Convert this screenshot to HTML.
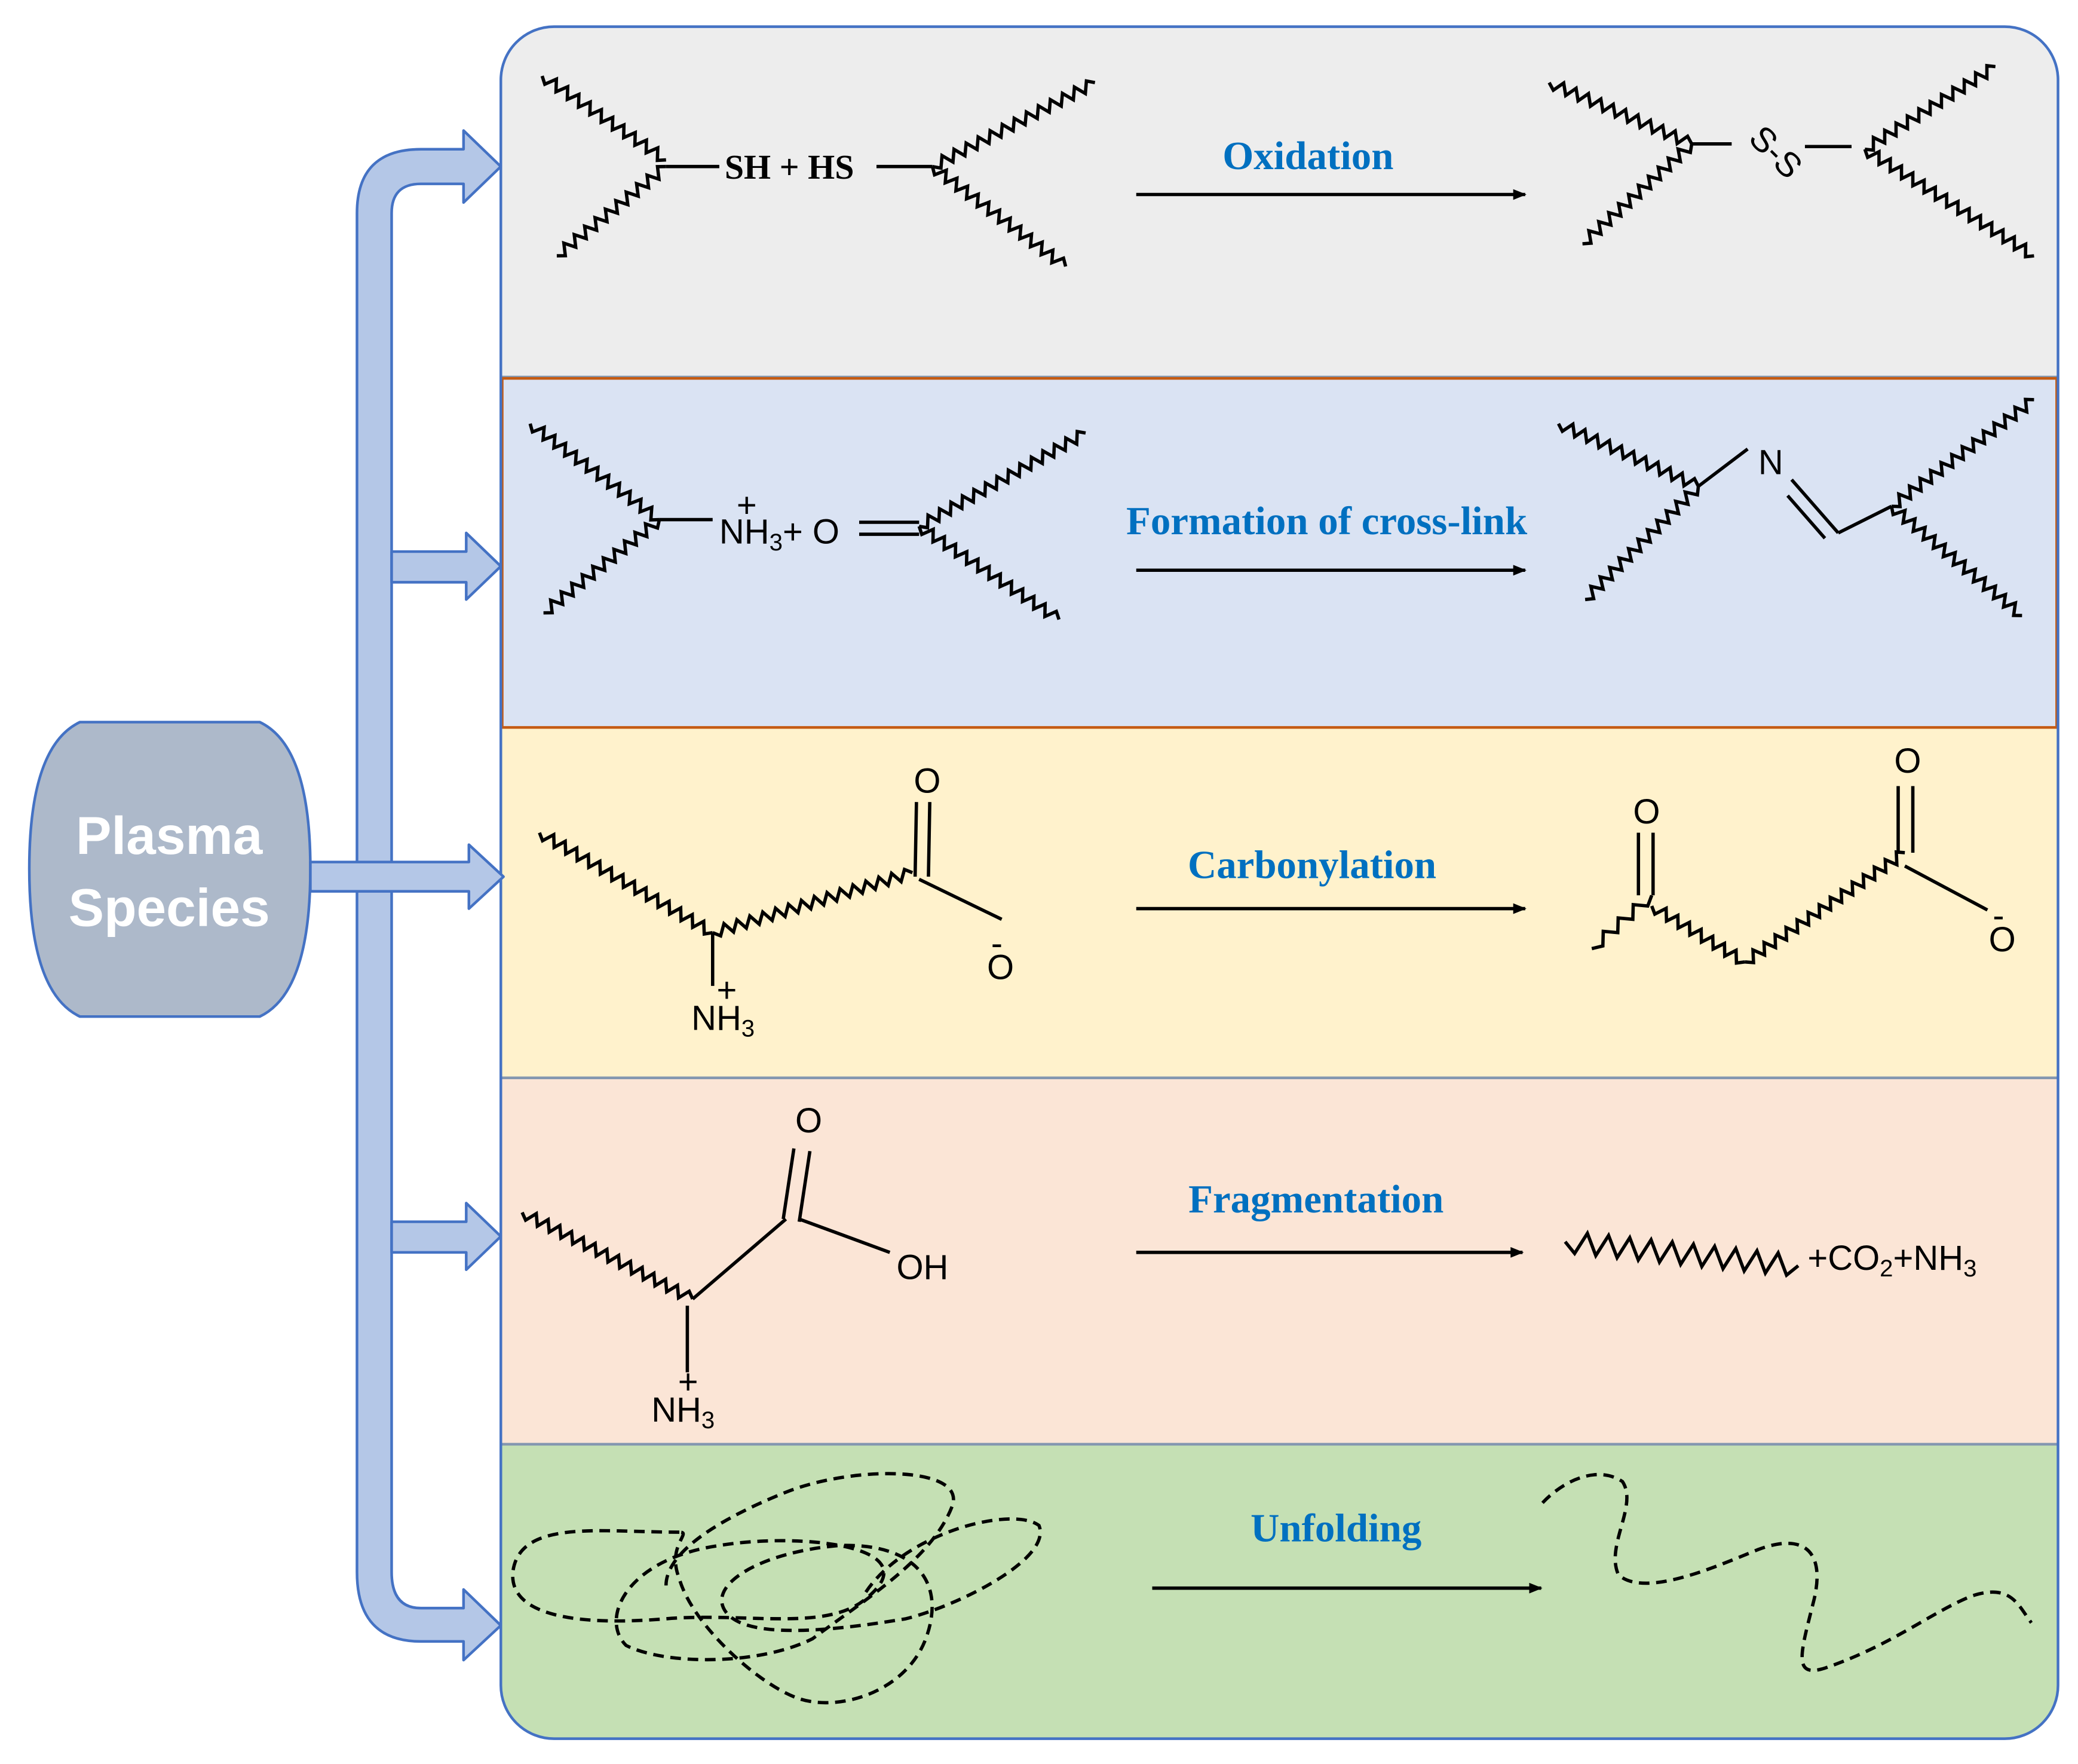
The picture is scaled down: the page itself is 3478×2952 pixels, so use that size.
<!DOCTYPE html>
<html><head><meta charset="utf-8"><style>
html,body{margin:0;padding:0;background:#fff;width:3478px;height:2952px;overflow:hidden}
svg{display:block}
.lbl{font-family:"Liberation Serif",serif;font-weight:bold;font-size:30px;fill:#0070c0;text-anchor:middle}
.ch{font-family:"Liberation Sans",sans-serif;font-size:26px;fill:#000}
.chs{font-family:"Liberation Serif",serif;font-weight:bold;font-size:26px;fill:#000}
</style></head><body>
<svg id="s" width="3478" height="2952" viewBox="0 0 1560 1324" preserveAspectRatio="none">
<defs><marker id="ah" markerWidth="10" markerHeight="8" refX="9" refY="4" orient="auto" markerUnits="userSpaceOnUse"><path d="M0,0 L10,4 L0,8z" fill="#000"/></marker>
<clipPath id="cp"><rect x="376" y="20" width="1169" height="1285" rx="40"/></clipPath></defs>
<g clip-path="url(#cp)">
<rect x="376" y="20" width="1169" height="263" fill="#ededed"/>
<rect x="376" y="283" width="1169" height="264" fill="#dae3f3"/>
<rect x="376" y="547" width="1169" height="262" fill="#fff2cc"/>
<rect x="376" y="809" width="1169" height="275" fill="#fbe5d6"/>
<rect x="376" y="1084" width="1169" height="221" fill="#c5e0b4"/>
<line x1="376" y1="283" x2="1545" y2="283" stroke="#8497b0" stroke-width="2"/>
<rect x="377" y="284" width="1167" height="262" fill="none" stroke="#c55a11" stroke-width="2"/>
<line x1="376" y1="809" x2="1545" y2="809" stroke="#8497b0" stroke-width="2"/>
<line x1="376" y1="1084" x2="1545" y2="1084" stroke="#8497b0" stroke-width="2"/>
</g>
<rect x="376" y="20" width="1169" height="1285" rx="40" fill="none" stroke="#4472c4" stroke-width="2"/>

<path d="M60,542 L195,542 Q233,560 233,652 Q233,745 195,763 L60,763 Q22,745 22,652 Q22,560 60,542z" fill="#adb9ca" stroke="#4472c4" stroke-width="2"/>
<text x="127" y="641" text-anchor="middle" font-family="Liberation Sans,sans-serif" font-weight="bold" font-size="40" fill="#fff">Plasma</text>
<text x="127" y="695" text-anchor="middle" font-family="Liberation Sans,sans-serif" font-weight="bold" font-size="40" fill="#fff">Species</text>

<g fill="#b4c7e7" stroke="#4472c4" stroke-width="2" stroke-linejoin="round">
<path d="M294,1180 L294,160 Q294,138 316,138 L348,138 L348,152 L376,125 L348,98 L348,112 L316,112 Q268,112 268,160 L268,1180 Q268,1232 316,1232 L348,1232 L348,1246 L376,1220 L348,1193 L348,1207 L316,1207 Q294,1207 294,1180z"/>
<path d="M294,414 L350,414 L350,400 L376,425 L350,450 L350,437 L294,437z"/>
<path d="M233,647 L352,647 L352,634 L378,658 L352,682 L352,669 L233,669z"/>
<path d="M294,917 L350,917 L350,903 L376,928 L350,953 L350,940 L294,940z"/>
</g>

<g id="chem" stroke="#000" stroke-width="2.5" fill="none"></g>

<g stroke="#000" stroke-width="2.5" marker-end="url(#ah)">
<line x1="853" y1="146" x2="1145" y2="146"/>
<line x1="853" y1="428" x2="1145" y2="428"/>
<line x1="853" y1="682" x2="1145" y2="682"/>
<line x1="853" y1="940" x2="1143" y2="940"/>
<line x1="865" y1="1192" x2="1157" y2="1192"/>
</g>
<text class="lbl" x="982" y="127">Oxidation</text>
<text class="lbl" x="996" y="401">Formation of cross-link</text>
<text class="lbl" x="985" y="659">Carbonylation</text>
<text class="lbl" x="988" y="910">Fragmentation</text>
<text class="lbl" x="1003" y="1157">Unfolding</text>

<text class="chs" x="544" y="134">SH + HS</text>
<text class="ch" x="1312" y="116" font-size="22" transform="rotate(45 1325 110)">S-S</text>
<text class="ch" x="540" y="408">NH<tspan font-size="18" dy="5">3</tspan><tspan dy="-5">+ O</tspan></text>
<text class="ch" x="553" y="388">+</text>
<text class="ch" x="1320" y="356">N</text>
<text class="ch" x="686" y="595">O</text>
<text class="ch" x="741" y="735">O</text><text class="ch" x="744" y="717" font-size="16">-</text>
<text class="ch" x="519" y="773">NH<tspan font-size="18" dy="5">3</tspan></text>
<text class="ch" x="538" y="752">+</text>
<text class="ch" x="1226" y="618">O</text>
<text class="ch" x="1422" y="580">O</text>
<text class="ch" x="1493" y="714">O</text><text class="ch" x="1496" y="696" font-size="16">-</text>
<text class="ch" x="597" y="850">O</text>
<text class="ch" x="673" y="960">OH</text>
<text class="ch" x="489" y="1067">NH<tspan font-size="18" dy="5">3</tspan></text>
<text class="ch" x="509" y="1046">+</text>
<text class="ch" x="1357" y="953">+CO<tspan font-size="18" dy="5">2</tspan><tspan dy="-5">+NH</tspan><tspan font-size="18" dy="5">3</tspan></text>

<g stroke="#000" stroke-width="2.5" fill="none" stroke-dasharray="8,5">
<path d="M510,1150 C450,1150 390,1140 385,1180 C382,1215 440,1220 500,1215 C560,1210 620,1225 650,1200 C700,1160 600,1150 540,1160 C470,1170 450,1215 470,1235 C500,1250 570,1250 610,1230 C650,1200 700,1170 715,1130 C725,1100 640,1100 590,1120 C540,1140 500,1165 500,1190"/>
<path d="M650,1195 C680,1150 760,1130 780,1145 C790,1170 720,1205 680,1215 C620,1225 560,1230 545,1210 C530,1190 570,1165 630,1160 C690,1158 710,1190 695,1230 C680,1270 630,1285 600,1275 C570,1265 520,1220 510,1185 C500,1160 520,1150 510,1150"/>
<path d="M1158,1128 C1175,1110 1200,1100 1218,1112 C1230,1130 1205,1160 1215,1182 C1235,1200 1290,1175 1320,1163 C1355,1150 1370,1165 1362,1200 C1352,1240 1345,1260 1370,1252 C1420,1235 1450,1210 1480,1198 C1510,1188 1515,1205 1525,1218"/>
</g>
</svg>
<script>
function zig(x1,y1,x2,y2,n,a){var dx=x2-x1,dy=y2-y1,L=Math.hypot(dx,dy),ux=dx/L,uy=dy/L,px=-uy,py=ux;n=n||Math.round(L/5);a=a||4;var d="M"+x1+","+y1;for(var i=1;i<n;i++){var t=i/n,s=(i%2?1:-1)*a;d+=" L"+(x1+dx*t+px*s).toFixed(1)+","+(y1+dy*t+py*s).toFixed(1);}d+=" L"+x2+","+y2;return '<path d="'+d+'"/>';}
function ln(a,b,c,d){return '<line x1="'+a+'" y1="'+b+'" x2="'+c+'" y2="'+d+'"/>';}
var h="";
h+=zig(407,57,500,120)+zig(418,192,500,125)+ln(500,125,540,125)+ln(658,125,700,125)+zig(700,125,822,62)+zig(700,125,800,200);
h+=zig(1163,62,1270,108)+zig(1188,183,1270,108)+ln(1270,108,1300,108)+ln(1355,110,1390,110)+zig(1400,112,1498,50)+zig(1400,112,1527,192);
h+=zig(398,318,495,390)+zig(408,460,495,390)+ln(495,390,535,390)+ln(645,392,690,392)+ln(645,401,690,401)+zig(690,395,815,325)+zig(690,395,795,465);
h+=zig(1170,318,1275,365)+zig(1190,450,1275,365)+ln(1275,365,1312,337)+ln(1345,360,1380,400)+ln(1342,372,1370,404)+ln(1380,400,1420,380)+zig(1420,380,1527,300)+zig(1420,380,1518,462);
h+=zig(405,625,535,700)+zig(535,700,685,655)+ln(687,658,688,602)+ln(697,658,698,602)+ln(690,660,752,690)+ln(535,700,535,740);
h+=zig(1195,712,1240,672,8,4)+ln(1230,672,1230,625)+ln(1241,672,1241,625)+zig(1240,680,1310,722)+zig(1310,722,1430,640)+ln(1425,640,1425,590)+ln(1436,640,1436,590)+ln(1430,650,1492,683);
h+=zig(392,910,520,975)+ln(520,975,590,915)+ln(588,915,596,862)+ln(600,917,608,864)+ln(600,915,668,940)+ln(516,980,516,1030);
h+=zig(1175,932,1350,950,22,8);
document.getElementById("chem").innerHTML=h;
</script>
</body></html>
